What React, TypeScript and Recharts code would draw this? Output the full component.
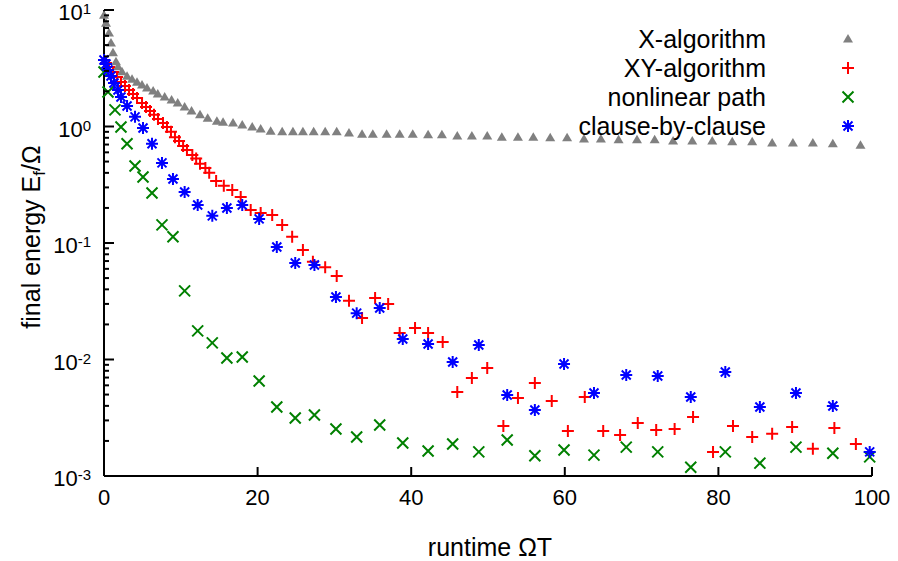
import React from 'react'
import { ScatterChart, Scatter, XAxis, YAxis } from 'recharts'

const FONT = '"Liberation Sans", Arial, Helvetica, sans-serif'

// X-algorithm (grey triangles)
const xAlgoT = [0, 0.26, 0.65, 0.91, 1.17, 1.56, 1.82, 2.34, 3.0, 3.65, 4.3, 4.95, 5.6, 6.4, 7.0, 7.9, 8.8, 9.6, 10.5, 11.4, 12.5, 13.5, 14.7, 15.5, 16.8, 18.0, 19.3, 20.4, 21.7, 23.2, 24.6, 25.9, 27.3, 28.8, 30.3, 31.9, 33.6, 35.0, 36.8, 38.5, 40.2, 42.2, 44.0, 46.0, 47.9, 49.9, 51.8, 53.9, 55.9, 58.1, 60.3, 62.5, 64.7, 67.0, 69.4, 71.7, 74.1, 76.6, 79.2, 81.8, 84.4, 87.0, 89.7, 92.3, 94.9, 98.5]
const xAlgoE = [9.0, 7.7, 6.35, 5.2, 4.3, 3.6, 3.25, 2.95, 2.7, 2.55, 2.4, 2.27, 2.14, 2.02, 1.9, 1.79, 1.69, 1.59, 1.47, 1.36, 1.26, 1.18, 1.11, 1.09, 1.07, 1.03, 0.99, 0.95, 0.91, 0.9, 0.9, 0.9, 0.9, 0.9, 0.9, 0.88, 0.86, 0.86, 0.86, 0.86, 0.86, 0.85, 0.85, 0.83, 0.83, 0.83, 0.81, 0.81, 0.81, 0.8, 0.8, 0.78, 0.78, 0.77, 0.77, 0.77, 0.75, 0.75, 0.75, 0.74, 0.74, 0.72, 0.72, 0.72, 0.71, 0.69]

// XY-algorithm (red plus)
const xyT = [0, 0.26, 0.65, 1.17, 1.69, 2.21, 2.73, 3.26, 3.78, 4.3, 4.95, 5.47, 5.99, 6.51, 7.03, 7.68, 8.2, 8.72, 9.24, 9.77, 10.3, 10.8, 11.5, 12.0, 12.5, 13.2, 13.7, 14.6, 15.6, 16.7, 17.8, 19.1, 20.4, 21.9, 23.2, 24.5, 25.9, 27.2, 28.8, 30.3, 31.9, 33.6, 35.3, 37.0, 38.5, 40.5, 42.2, 44.1, 46.0, 47.9, 49.9, 52.0, 53.9, 56.1, 58.3, 60.4, 62.6, 65.0, 67.2, 69.5, 71.9, 74.3, 76.7, 79.3, 81.9, 84.4, 87.0, 89.6, 92.3, 95.1, 97.9]
const xyE = [3.72, 3.51, 3.24, 2.94, 2.66, 2.41, 2.23, 2.06, 1.9, 1.76, 1.59, 1.47, 1.36, 1.26, 1.16, 1.07, 0.99, 0.9, 0.81, 0.75, 0.68, 0.63, 0.57, 0.53, 0.48, 0.44, 0.4, 0.34, 0.31, 0.285, 0.248, 0.192, 0.181, 0.174, 0.143, 0.113, 0.087, 0.069, 0.062, 0.052, 0.032, 0.0227, 0.0337, 0.03, 0.0169, 0.0186, 0.0169, 0.0141, 0.00526, 0.00693, 0.00845, 0.00269, 0.00468, 0.00629, 0.0044, 0.00243, 0.00476, 0.00243, 0.00225, 0.00285, 0.00248, 0.00253, 0.00321, 0.00161, 0.00269, 0.00216, 0.0023, 0.00264, 0.00171, 0.00258, 0.00188]

// nonlinear path (green x)
const nlT = [0, 0.52, 1.43, 2.21, 3.0, 4.04, 5.08, 6.25, 7.55, 8.98, 10.5, 12.2, 14.1, 16.0, 18.0, 20.2, 22.5, 24.9, 27.4, 30.2, 32.9, 35.9, 38.9, 42.2, 45.4, 48.8, 52.5, 56.1, 59.9, 63.8, 68.0, 72.1, 76.4, 80.9, 85.4, 90.1, 94.9, 99.7]
const nlE = [2.94, 1.98, 1.39, 0.99, 0.71, 0.458, 0.369, 0.269, 0.143, 0.113, 0.0388, 0.0176, 0.0139, 0.0103, 0.0105, 0.00653, 0.00391, 0.00315, 0.00334, 0.00253, 0.00216, 0.00274, 0.00192, 0.00164, 0.00188, 0.00161, 0.00204, 0.00149, 0.00167, 0.00151, 0.00177, 0.00161, 0.00119, 0.00161, 0.00129, 0.00177, 0.00157, 0.00146]

// clause-by-clause (blue asterisk)
const cbcT = [0, 0.26, 0.52, 0.91, 1.3, 1.82, 2.21, 3.0, 4.04, 5.08, 6.25, 7.55, 8.98, 10.5, 12.2, 14.1, 16.0, 18.0, 20.2, 22.5, 24.9, 27.4, 30.2, 32.9, 35.9, 38.9, 42.2, 45.4, 48.8, 52.5, 56.1, 59.9, 63.8, 68.0, 72.1, 76.4, 80.9, 85.4, 90.1, 94.9, 99.7]
const cbcE = [3.72, 3.44, 3.05, 2.71, 2.36, 2.06, 1.79, 1.5, 1.21, 0.97, 0.71, 0.487, 0.354, 0.274, 0.212, 0.171, 0.2, 0.212, 0.161, 0.0925, 0.0674, 0.0648, 0.0344, 0.025, 0.0277, 0.015, 0.0136, 0.00952, 0.0133, 0.00496, 0.00369, 0.00914, 0.00515, 0.00736, 0.00722, 0.00476, 0.00781, 0.00391, 0.00515, 0.00399, 0.00161]

const xTicks = [0, 20, 40, 60, 80, 100]
const yDecades = [0.001, 0.01, 0.1, 1]
const yMultiples = [1, 2, 3, 4, 5, 6, 7, 8, 9]
const yTicks = [...yDecades.flatMap(d => yMultiples.map(m => +(m * d).toPrecision(3))), 10]

const toPoints = (t: number[], e: number[]) => t.map((x, i) => ({ x, y: e[i] }))

const GREY = '#808080'
const RED = '#ff0000'
const GREEN = '#008000'
const BLUE = '#0000ff'

const Triangle = ({ cx, cy }: any) => (
  <path d={`M${cx},${cy - 5} L${cx + 5},${cy + 3.5} L${cx - 5},${cy + 3.5} Z`} fill={GREY} />
)
const Plus = ({ cx, cy }: any) => (
  <path d={`M${cx - 6},${cy} H${cx + 6} M${cx},${cy - 6} V${cy + 6}`} stroke={RED} strokeWidth={2} fill="none" />
)
const Cross = ({ cx, cy }: any) => (
  <path d={`M${cx - 5.5},${cy - 5.5} L${cx + 5.5},${cy + 5.5} M${cx - 5.5},${cy + 5.5} L${cx + 5.5},${cy - 5.5}`} stroke={GREEN} strokeWidth={2} fill="none" />
)
const Star = ({ cx, cy }: any) => (
  <path
    d={`M${cx - 6},${cy} H${cx + 6} M${cx},${cy - 6} V${cy + 6} M${cx - 4.5},${cy - 4.5} L${cx + 4.5},${cy + 4.5} M${cx - 4.5},${cy + 4.5} L${cx + 4.5},${cy - 4.5}`}
    stroke={BLUE}
    strokeWidth={2}
    fill="none"
  />
)

const isMajor = (v: number) => {
  const p = Math.log10(v)
  return Math.abs(p - Math.round(p)) < 1e-6
}

const BottomTick = ({ x, y, payload }: any) => (
  <g>
    <line x1={x} y1={y} x2={x} y2={y - 9} stroke="#000" strokeWidth={2} />
    <text x={x} y={y + 29} textAnchor="middle" fontSize={22} fontFamily={FONT} fill="#000">
      {payload.value}
    </text>
  </g>
)

const TopTick = ({ x, y }: any) => (
  <line x1={x} y1={y} x2={x} y2={y + 9} stroke="#000" strokeWidth={2} />
)

// log axis: labelled decades, short unlabelled minors
const LeftTick = ({ x, y, payload }: any) => {
  const major = isMajor(payload.value)
  return (
    <g>
      <line x1={x} y1={y} x2={x + (major ? 10 : 5)} y2={y} stroke="#000" strokeWidth={2} />
      {major && (
        <text x={x - 13} y={y + 10} textAnchor="end" fontSize={22} fontFamily={FONT} fill="#000">
          10<tspan dy={-6} fontSize={15}>{Math.round(Math.log10(payload.value))}</tspan>
        </text>
      )}
    </g>
  )
}

const RightTick = ({ x, y, payload }: any) => {
  const major = isMajor(payload.value)
  return <line x1={x} y1={y} x2={x - (major ? 10 : 5)} y2={y} stroke="#000" strokeWidth={2} />
}

const legendRows = [
  { label: 'X-algorithm', Mark: Triangle },
  { label: 'XY-algorithm', Mark: Plus },
  { label: 'nonlinear path', Mark: Cross },
  { label: 'clause-by-clause', Mark: Star },
]

export default function App() {
  const axisLine = { stroke: '#000', strokeWidth: 2 }
  return (
    <div style={{ position: 'relative', width: 898, height: 561, background: '#fff' }}>
      <style>{'body{margin:0}'}</style>
      <ScatterChart width={898} height={561} margin={{ top: 10, right: 26, bottom: 0, left: 0 }}>
        <XAxis
          dataKey="x"
          type="number"
          domain={[0, 100]}
          ticks={xTicks}
          interval={0}
          height={85}
          tickSize={0}
          tickMargin={0}
          axisLine={axisLine}
          tick={<BottomTick />}
        />
        <XAxis
          xAxisId="top"
          orientation="top"
          type="number"
          domain={[0, 100]}
          ticks={xTicks}
          interval={0}
          height={0}
          tickSize={0}
          tickMargin={0}
          axisLine={axisLine}
          tick={<TopTick />}
        />
        <YAxis
          dataKey="y"
          type="number"
          scale="log"
          domain={[0.001, 10]}
          allowDataOverflow
          ticks={yTicks}
          interval={0}
          width={104}
          tickSize={0}
          tickMargin={0}
          axisLine={axisLine}
          tick={<LeftTick />}
        />
        <YAxis
          yAxisId="right"
          orientation="right"
          type="number"
          scale="log"
          domain={[0.001, 10]}
          allowDataOverflow
          ticks={yTicks}
          interval={0}
          width={0}
          tickSize={0}
          tickMargin={0}
          axisLine={axisLine}
          tick={<RightTick />}
        />
        <Scatter data={toPoints(xAlgoT, xAlgoE)} shape={<Triangle />} isAnimationActive={false} />
        <Scatter data={toPoints(xyT, xyE)} shape={<Plus />} isAnimationActive={false} />
        <Scatter data={toPoints(nlT, nlE)} shape={<Cross />} isAnimationActive={false} />
        <Scatter data={toPoints(cbcT, cbcE)} shape={<Star />} isAnimationActive={false} />
      </ScatterChart>

      <svg width={898} height={561} style={{ position: 'absolute', left: 0, top: 0, pointerEvents: 'none' }}>
        <text x={490} y={556} textAnchor="middle" fontSize={25} fontFamily={FONT} fill="#000">
          runtime ΩT
        </text>
        <text transform="translate(40,237) rotate(-90)" textAnchor="middle" fontSize={25} fontFamily={FONT} fill="#000">
          final energy E<tspan fontSize={17} dy={5}>f</tspan>
          <tspan dy={-5}>/Ω</tspan>
        </text>
        {legendRows.map(({ label, Mark }, i) => {
          const cy = 39 + i * 29
          return (
            <g key={label}>
              <text x={766} y={cy + 9} textAnchor="end" fontSize={25} fontFamily={FONT} fill="#000">
                {label}
              </text>
              <Mark cx={848} cy={cy} />
            </g>
          )
        })}
      </svg>
    </div>
  )
}
